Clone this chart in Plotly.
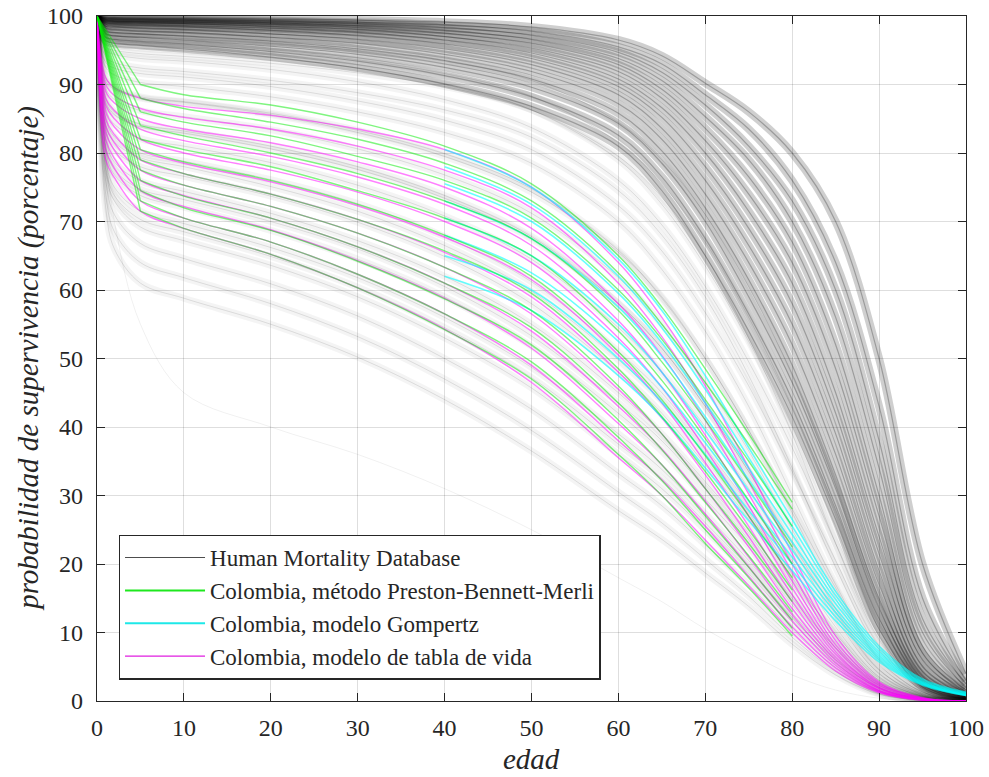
import plotly.graph_objects as go

# ---------------- data ----------------
AGES = [0, 1, 2, 5, 10, 20, 30, 40, 50, 60, 65, 70, 75, 80, 85, 90, 95, 100]
AGES_PBM_EARLY = [0, 5]
AGES_PBM = [5, 10, 20, 30, 40, 50, 60, 65, 70, 75, 80]
AGES_GOMP = [40, 50, 60, 65, 70, 75, 80, 85, 90, 95, 100]

# Human Mortality Database - recent tables (dense dark band), values at AGES[1:]
hmd_recent = [
    [99.8, 99.75, 99.7, 99.65, 99.55, 99.4, 99.1, 98.4, 96.5, 94.2, 90.2, 86.0, 80.0, 70.0, 50.0, 20.0, 4.0],
    [99.7, 99.65, 99.6, 99.5, 99.35, 99.1, 98.7, 97.8, 95.5, 93.0, 88.5, 83.5, 76.0, 64.0, 43.0, 15.0, 3.0],
    [99.6, 99.55, 99.5, 99.4, 99.2, 98.9, 98.3, 97.2, 94.7, 91.8, 87.0, 81.0, 73.0, 60.0, 38.0, 12.0, 2.5],
    [99.5, 99.45, 99.4, 99.3, 99.0, 98.6, 97.9, 96.6, 93.8, 90.6, 85.3, 79.0, 70.0, 56.0, 34.0, 10.0, 2.0],
    [99.4, 99.3, 99.2, 99.1, 98.8, 98.3, 97.5, 96.0, 92.9, 89.3, 83.6, 76.5, 67.0, 52.0, 30.0, 8.0, 1.6],
    [99.2, 99.1, 99.0, 98.9, 98.5, 98.0, 97.0, 95.3, 91.9, 88.0, 81.8, 74.0, 64.0, 48.5, 27.0, 7.0, 1.3],
    [99.0, 98.9, 98.8, 98.6, 98.2, 97.6, 96.5, 94.6, 90.8, 86.6, 80.0, 71.5, 61.0, 45.0, 24.0, 6.0, 1.1],
    [98.8, 98.7, 98.6, 98.4, 97.9, 97.2, 95.9, 93.8, 89.7, 85.2, 78.0, 69.0, 58.0, 42.0, 21.5, 5.0, 0.9],
    [98.5, 98.4, 98.2, 98.0, 97.4, 96.6, 95.2, 92.9, 88.5, 83.6, 76.0, 66.5, 55.0, 39.0, 19.0, 4.3, 0.8],
    [98.2, 98.0, 97.8, 97.6, 96.9, 96.0, 94.4, 91.9, 87.2, 82.0, 74.0, 64.0, 52.0, 36.0, 17.0, 3.7, 0.6],
    [97.8, 97.6, 97.4, 97.1, 96.3, 95.2, 93.5, 90.8, 85.8, 80.3, 72.0, 61.5, 49.0, 33.0, 15.0, 3.2, 0.5],
    [97.4, 97.1, 96.9, 96.5, 95.6, 94.4, 92.5, 89.6, 84.3, 78.5, 70.0, 59.0, 46.5, 31.0, 13.5, 2.8, 0.4],
    [96.9, 96.6, 96.3, 95.9, 94.8, 93.4, 91.3, 88.2, 82.6, 76.5, 67.5, 56.5, 44.0, 28.5, 12.0, 2.4, 0.3],
    [96.4, 96.0, 95.7, 95.2, 94.0, 92.4, 90.1, 86.8, 81.0, 74.5, 65.0, 54.0, 41.5, 26.5, 10.5, 2.0, 0.3],
]

# Human Mortality Database - mid-century tables, values at AGES[1:]
hmd_mid = [
    [97.5, 97.2, 97.0, 96.7, 96.0, 95.0, 93.4, 90.6, 84.5, 79.0, 71.0, 60.5, 47.5, 31.5, 14.5, 3.5, 0.5],
    [96.8, 96.4, 96.1, 95.8, 94.9, 93.6, 91.6, 88.3, 81.5, 75.5, 67.0, 56.0, 43.0, 28.0, 12.0, 2.8, 0.4],
    [96.2, 95.7, 95.3, 94.9, 93.9, 92.4, 90.0, 86.3, 79.0, 72.5, 63.5, 52.5, 40.0, 25.5, 10.5, 2.4, 0.3],
    [95.0, 94.4, 93.8, 93.4, 92.2, 90.4, 87.8, 83.7, 76.0, 69.5, 60.5, 49.5, 37.0, 23.0, 9.5, 2.2, 0.3],
    [93.2, 92.4, 91.6, 91.1, 89.7, 87.6, 84.8, 80.5, 72.3, 65.7, 56.7, 46.0, 33.5, 20.5, 8.0, 1.8, 0.2],
    [90.5, 89.3, 88.0, 87.4, 85.6, 83.0, 79.5, 74.3, 65.5, 59.0, 50.0, 39.5, 28.0, 16.5, 6.0, 1.3, 0.1],
    [87.5, 85.6, 83.8, 82.9, 80.6, 77.6, 73.4, 67.5, 58.0, 51.5, 43.0, 33.5, 23.0, 13.0, 4.5, 1.0, 0.1],
    [84.0, 81.6, 79.3, 78.0, 75.1, 71.5, 66.5, 59.8, 49.8, 43.8, 36.0, 27.5, 18.0, 9.8, 3.3, 0.7, 0.0],
    [81.0, 77.6, 74.7, 73.2, 70.0, 66.0, 60.5, 53.3, 43.5, 38.0, 31.0, 23.5, 15.0, 7.8, 2.5, 0.5, 0.0],
    [78.0, 73.8, 70.3, 68.5, 64.9, 60.4, 54.5, 47.2, 37.5, 32.5, 26.0, 19.5, 12.2, 6.0, 1.9, 0.3, 0.0],
]

# Human Mortality Database - older tables (lighter spread), values at AGES[1:]
hmd_hist = [
    [95.5, 95.0, 94.5, 94.1, 93.1, 91.7, 89.7, 86.3, 79.5, 73.5, 65.0, 53.0, 39.0, 23.0, 9.0, 2.0, 0.3],
    [94.0, 93.2, 92.4, 91.9, 90.6, 88.8, 86.3, 82.3, 74.5, 68.0, 59.0, 47.5, 34.0, 19.5, 7.5, 1.6, 0.2],
    [92.5, 91.4, 90.3, 89.7, 88.2, 86.0, 83.0, 78.5, 70.0, 63.0, 54.0, 43.0, 30.0, 17.0, 6.2, 1.3, 0.2],
    [91.0, 89.6, 88.2, 87.5, 85.8, 83.3, 79.9, 74.8, 65.8, 58.8, 50.0, 39.5, 27.5, 15.0, 5.3, 1.1, 0.1],
    [89.5, 87.8, 86.2, 85.3, 83.4, 80.6, 76.8, 71.2, 61.8, 55.0, 46.5, 36.5, 25.0, 13.5, 4.6, 0.9, 0.1],
    [88.0, 86.0, 84.2, 83.2, 81.0, 78.0, 73.8, 67.8, 58.0, 51.5, 43.0, 33.5, 22.5, 12.0, 4.0, 0.8, 0.1],
    [86.5, 84.2, 82.1, 81.0, 78.6, 75.3, 70.8, 64.5, 54.5, 48.0, 40.0, 31.0, 20.5, 10.8, 3.5, 0.7, 0.0],
    [85.0, 82.4, 80.0, 78.8, 76.1, 72.6, 67.8, 61.2, 51.0, 45.0, 37.0, 28.5, 18.5, 9.5, 3.0, 0.6, 0.0],
    [83.5, 80.5, 78.0, 76.6, 73.7, 69.9, 64.9, 58.0, 48.0, 42.0, 34.5, 26.5, 17.0, 8.5, 2.6, 0.5, 0.0],
    [82.0, 78.7, 75.9, 74.4, 71.2, 67.2, 62.0, 55.0, 45.0, 39.0, 32.0, 24.5, 15.5, 7.7, 2.3, 0.4, 0.0],
    [80.5, 76.8, 73.8, 72.1, 68.7, 64.5, 59.0, 51.8, 42.0, 36.5, 29.5, 22.5, 14.0, 6.9, 2.0, 0.3, 0.0],
    [79.0, 75.0, 71.5, 69.7, 66.2, 61.8, 56.0, 48.7, 39.0, 33.8, 27.3, 20.5, 12.8, 6.2, 1.8, 0.3, 0.0],
    [77.5, 73.0, 69.2, 67.2, 63.6, 59.0, 53.0, 45.7, 36.0, 31.0, 25.0, 18.6, 11.5, 5.5, 1.5, 0.2, 0.0],
    [76.0, 71.0, 66.8, 64.6, 60.9, 56.2, 50.0, 42.6, 33.2, 28.5, 22.8, 17.0, 10.4, 4.9, 1.3, 0.2, 0.0],
    [74.0, 68.5, 64.0, 61.8, 58.0, 53.2, 47.0, 39.5, 30.5, 26.0, 20.7, 15.3, 9.3, 4.3, 1.1, 0.1, 0.0],
    [72.0, 66.0, 61.0, 58.8, 55.0, 50.2, 44.0, 36.5, 27.8, 23.6, 18.7, 13.8, 8.3, 3.8, 1.0, 0.1, 0.0],
]

# faint outlier table
hmd_outlier = [
    [80.0, 70.0, 55.0, 45.0, 40.0, 36.0, 31.0, 25.0, 18.0, 14.5, 10.5, 7.0, 3.8, 1.6, 0.4, 0.0, 0.0],
]

# Colombia, modelo de tabla de vida (magenta), values at AGES[1:]
col_tabla = [
    [91.0, 89.5, 88.0, 86.8, 85.5, 83.5, 80.5, 75.0, 64.0, 56.0, 46.0, 34.0, 21.5, 9.5, 2.8, 0.5, 0.0],
    [90.0, 88.4, 86.5, 85.2, 83.5, 81.0, 77.5, 72.0, 61.0, 53.2, 43.5, 32.0, 20.0, 8.8, 2.6, 0.4, 0.0],
    [89.0, 87.3, 85.0, 83.5, 81.5, 78.7, 75.0, 69.0, 58.0, 50.5, 41.0, 30.2, 18.8, 8.2, 2.4, 0.4, 0.0],
    [88.0, 86.2, 83.5, 81.8, 79.5, 76.5, 72.5, 66.5, 55.5, 48.0, 38.8, 28.5, 17.5, 7.7, 2.2, 0.3, 0.0],
    [87.0, 85.0, 82.0, 80.0, 77.5, 74.3, 70.0, 64.0, 53.0, 45.8, 36.8, 27.0, 16.5, 7.2, 2.0, 0.3, 0.0],
    [86.0, 83.8, 80.5, 78.5, 75.8, 72.3, 67.7, 61.5, 50.5, 43.5, 34.8, 25.5, 15.5, 6.8, 1.9, 0.3, 0.0],
    [85.0, 82.7, 79.0, 77.0, 74.0, 70.3, 65.5, 59.0, 48.0, 41.3, 33.0, 24.0, 14.5, 6.4, 1.8, 0.2, 0.0],
    [84.0, 81.5, 77.5, 75.3, 72.2, 68.3, 63.3, 56.5, 45.5, 39.0, 31.0, 22.5, 13.5, 6.0, 1.6, 0.2, 0.0],
    [83.0, 80.4, 76.0, 73.8, 70.5, 66.3, 61.0, 54.0, 43.0, 36.8, 29.2, 21.0, 12.6, 5.6, 1.5, 0.2, 0.0],
    [82.0, 79.2, 74.5, 72.2, 68.8, 64.3, 58.8, 51.5, 40.5, 34.5, 27.3, 19.6, 11.7, 5.2, 1.4, 0.2, 0.0],
    [80.5, 77.8, 73.0, 70.5, 67.0, 62.3, 56.5, 49.0, 38.0, 32.3, 25.5, 18.2, 10.8, 4.8, 1.3, 0.1, 0.0],
    [79.0, 76.4, 71.5, 69.0, 65.2, 60.3, 54.3, 46.5, 35.5, 30.0, 23.5, 16.8, 10.0, 4.4, 1.2, 0.1, 0.0],
]

# Colombia, metodo Preston-Bennett-Merli (green), values at AGES_PBM (age 0 = 100)
col_pbm = [
    [90.0, 88.5, 87.0, 84.5, 81.0, 75.5, 65.0, 57.5, 48.5, 39.0, 29.0],
    [88.0, 86.5, 84.5, 82.0, 78.5, 73.0, 62.5, 55.0, 46.5, 37.5, 28.0],
    [86.0, 84.5, 82.5, 79.5, 76.0, 70.5, 60.0, 52.8, 44.0, 35.0, 25.5],
    [84.0, 82.5, 80.0, 77.0, 73.0, 67.5, 57.0, 49.5, 41.0, 32.0, 22.5],
    [82.0, 80.5, 78.0, 74.5, 70.5, 65.0, 54.0, 46.8, 38.3, 29.3, 20.0],
    [80.5, 78.7, 76.0, 72.5, 68.0, 62.0, 51.0, 44.0, 35.8, 27.0, 18.0],
    [79.0, 77.0, 74.0, 70.3, 65.7, 59.5, 48.5, 41.5, 33.5, 25.0, 16.2],
    [77.5, 75.3, 72.2, 68.3, 63.3, 57.0, 46.0, 39.0, 31.0, 23.0, 14.5],
    [76.0, 73.7, 70.5, 66.3, 61.0, 54.5, 43.5, 36.7, 29.0, 21.2, 13.0],
    [74.5, 72.0, 68.7, 64.2, 58.7, 52.0, 41.0, 34.5, 27.0, 19.5, 11.8],
    [73.0, 70.5, 67.0, 62.3, 56.5, 49.5, 38.5, 32.2, 25.0, 18.0, 10.6],
    [71.5, 69.0, 65.2, 60.3, 54.2, 47.0, 36.0, 30.0, 23.0, 16.5, 9.5],
]

# Colombia, modelo Gompertz (cyan), values at AGES_GOMP
col_gomp = [
    [80.5, 75.0, 64.5, 57.0, 47.5, 37.0, 26.5, 16.0, 8.0, 3.2, 1.3],
    [78.0, 72.5, 62.0, 54.5, 45.5, 35.5, 25.5, 15.4, 7.6, 3.0, 1.2],
    [75.5, 70.0, 59.5, 52.3, 43.5, 34.0, 24.3, 14.8, 7.2, 2.8, 1.1],
    [73.0, 67.5, 57.5, 50.3, 41.5, 32.3, 23.2, 14.2, 6.9, 2.7, 1.0],
    [70.5, 65.0, 55.0, 48.0, 39.5, 30.7, 22.0, 13.5, 6.6, 2.6, 0.9],
    [68.0, 62.5, 52.5, 45.8, 37.7, 29.2, 21.0, 12.9, 6.3, 2.5, 0.9],
    [65.0, 60.0, 50.0, 43.6, 36.0, 27.8, 20.0, 12.3, 6.0, 2.4, 0.8],
    [62.0, 57.0, 47.5, 41.4, 34.0, 26.3, 19.0, 11.7, 5.7, 2.3, 0.8],
]

LEGEND_NAMES = [
    "Human Mortality Database",
    "Colombia, método Preston-Bennett-Merli",
    "Colombia, modelo Gompertz",
    "Colombia, modelo de tabla de vida",
]
X_TITLE = "edad"
Y_TITLE = "probabilidad de supervivencia (porcentaje)"

# ---------------- figure ----------------
FONT = "Times New Roman, Liberation Serif, serif"
INK = "#262626"
fig = go.Figure()

SPL = dict(shape="spline", smoothing=1.0)


def add_curves(xs, rows, color, width, lead=None, shape=SPL):
    for row in rows:
        ys = ([lead] + row) if lead is not None else row
        fig.add_trace(go.Scatter(x=xs, y=ys, mode="lines",
                                 line=dict(color=color, width=width, **shape),
                                 showlegend=False, hoverinfo="skip"))


# grey HMD: soft wide strokes plus fine strokes
add_curves(AGES, hmd_hist + hmd_mid, "rgba(0,0,0,0.045)", 7, lead=100)
add_curves(AGES, hmd_hist + hmd_mid, "rgba(0,0,0,0.10)", 1, lead=100)
add_curves(AGES, hmd_outlier, "rgba(0,0,0,0.06)", 1, lead=100)
add_curves(AGES, hmd_recent, "rgba(0,0,0,0.19)", 8, lead=100)
add_curves(AGES, hmd_recent, "rgba(0,0,0,0.25)", 1.2, lead=100)
# Colombia
add_curves(AGES, col_tabla, "rgba(255,0,255,0.50)", 1.4, lead=100)
add_curves(AGES_GOMP, col_gomp, "rgba(0,255,255,0.60)", 1.6)
for row in col_pbm:
    fig.add_trace(go.Scatter(x=AGES_PBM_EARLY, y=[100, row[0]], mode="lines",
                             line=dict(color="rgba(0,235,0,0.50)", width=1.4),
                             showlegend=False, hoverinfo="skip"))
add_curves(AGES_PBM, col_pbm, "rgba(0,235,0,0.50)", 1.4)

# legend entries
leg_styles = [("#4d4d4d", 1.2), ("#1ee81e", 2.0), ("#1ee8e8", 2.0), ("#e01ee0", 1.3)]
for name, (c, w) in zip(LEGEND_NAMES, leg_styles):
    fig.add_trace(go.Scatter(x=[None], y=[None], mode="lines", name=name,
                             line=dict(color=c, width=w)))

axis_common = dict(
    range=[0, 100], dtick=10, tick0=0,
    showgrid=True, gridcolor="rgba(0,0,0,0.13)", gridwidth=1,
    showline=True, linecolor=INK, linewidth=1.3, mirror="ticks",
    ticks="inside", ticklen=8, tickwidth=1.3, tickcolor=INK,
    zeroline=False, automargin=False,
    tickfont=dict(family=FONT, size=24, color=INK),
)

fig.update_layout(
    width=989, height=777,
    margin=dict(l=97, r=23, t=16, b=76),
    paper_bgcolor="white", plot_bgcolor="white",
    font=dict(family=FONT, color=INK),
    xaxis=dict(**axis_common, ticklabelstandoff=5),
    yaxis=dict(**axis_common, ticklabelstandoff=8),
    annotations=[
        dict(text="<i>" + Y_TITLE + "</i>", textangle=-90,
             xref="paper", yref="paper", x=-0.079, y=0.5,
             xanchor="center", yanchor="middle", showarrow=False,
             font=dict(family=FONT, size=29, color=INK)),
        dict(text="<i>" + X_TITLE + "</i>",
             xref="paper", yref="paper", x=0.5, y=-0.084,
             xanchor="center", yanchor="middle", showarrow=False,
             font=dict(family=FONT, size=29, color=INK)),
    ],
    legend=dict(x=0.025, y=0.031, xanchor="left", yanchor="bottom",
                bgcolor="white", bordercolor=INK, borderwidth=1.3,
                font=dict(family=FONT, size=23, color=INK),
                itemwidth=80, tracegroupgap=0, traceorder="normal"),
    showlegend=True,
)

fig.write_html("out.html", config={"displayModeBar": False},
               post_script="document.body.style.margin='0px';")
